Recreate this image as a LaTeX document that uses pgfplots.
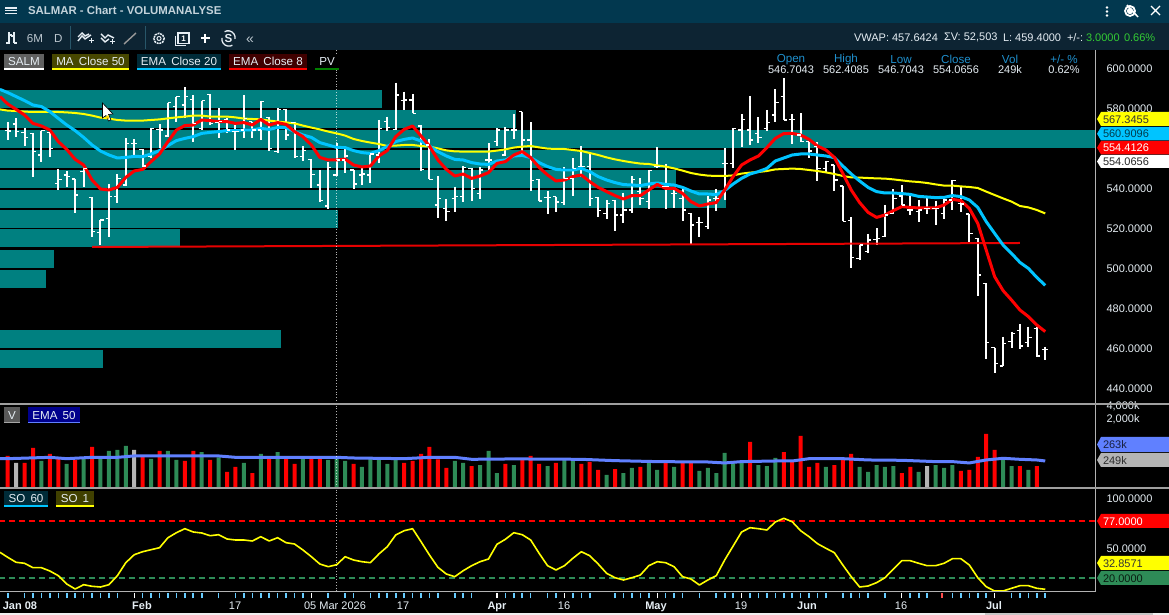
\documentclass[border=0pt]{standalone}
\usepackage{fontspec}
\setmainfont{Liberation Sans}
\usepackage{pgfplots}
\usepackage{pgfplotstable}
\pgfplotsset{compat=1.18}
\definecolor{hdr}{HTML}{02384F}
\definecolor{tbar}{HTML}{0D2433}
\definecolor{pvteal}{HTML}{008080}
\definecolor{mayel}{HTML}{FFFF00}
\definecolor{emablue}{HTML}{00C4FF}
\definecolor{emared}{HTML}{FF0000}
\definecolor{volgreen}{HTML}{2E8B57}
\definecolor{volgray}{HTML}{B4B4B4}
\definecolor{volblue}{HTML}{6080FF}
\definecolor{lab}{HTML}{E6EEF4}
\definecolor{hilab}{HTML}{1F8FCC}
\definecolor{tickblue}{HTML}{66CCFF}
\newcommand{\fs}{\fontsize{11}{13}\selectfont}
\newcommand{\fm}{\fontsize{11.3}{14}\selectfont}
\newcommand{\fc}{\fontsize{11.6}{14}\selectfont}
\pgfdeclareplotmark{olft}{\pgfpathmoveto{\pgfpoint{-3.2pt}{0pt}}\pgfpathlineto{\pgfpoint{0pt}{0pt}}\pgfusepathqstroke}
\pgfdeclareplotmark{crgt}{\pgfpathmoveto{\pgfpoint{0pt}{0pt}}\pgfpathlineto{\pgfpoint{3.2pt}{0pt}}\pgfusepathqstroke}
\pgfdeclareplotmark{nothing}{\pgfpathmoveto{\pgfpoint{0pt}{0pt}}\pgfusepathqstroke}
\pgfplotstableread{
i h l o c
0 572.8 564 568.7 568.5
1 574.8 565.7 572 568.2
2 569.8 561 567.8 565.3
3 567.3 545.7 567.3 558.2
4 568.7 553.2 556.5 568.7
5 567.8 555.7 567.8 559.8
6 549.5 539 542.3 544.3
7 548.5 540.7 546.5 545.7
8 544.5 527.3 544.5 536.5
9 550.3 540.7 548.2 549.8
10 535.3 515.7 535.3 518.2
11 524 511.5 517.7 524
12 542 515.7 524.8 535.7
13 547 532.7 535.7 544.8
14 564.8 541 541.5 562.3
15 564.3 556.5 562.3 562.3
16 559.3 550.3 559.3 551
17 569.8 554.8 555.7 569.8
18 571.8 559.8 569.3 569
19 582.7 565.7 566 582.7
20 585.7 573.2 580.7 585.7
21 590.3 574.8 581.5 585.7
22 586.5 563.2 584.3 572.3
23 583.7 569 569.8 583.7
24 586.8 571.5 586.8 572.3
25 579.8 565.2 572.7 573.2
26 574.8 567.7 574.3 569
27 571.5 559 568.2 568.2
28 586.5 564.8 569 574.8
29 573.2 564.8 573.2 569
30 583.7 564 569 583.2
31 575.7 558.7 575.3 559.8
32 579.8 557.7 558.2 579.3
33 579.3 564 579.3 566.5
34 573.2 555.2 572.8 555.7
35 561 553.5 555.7 558.7
36 554.3 540.2 554.3 546.8
37 549 533.2 541.5 533.7
38 553.2 529.5 531 550.3
39 562.3 546 546.5 554
40 559.8 547.7 554 556
41 549 539.7 549 542
42 549.8 541.5 546.5 547
43 558.2 542.7 546.5 557
44 574 552.7 556.5 569.8
45 575.7 568.7 573.2 570.2
46 592.7 569 569.3 586.5
47 588.2 579 583.7 584
48 587 577.3 584 577.3
49 571.5 548.7 571 549.3
50 564.3 544.3 561.5 544.3
51 546 524.8 531.5 534.8
52 534.5 523.7 529.8 528.2
53 540.7 528.2 534.8 535.7
54 551 533.2 535.7 550.3
55 549.8 533.7 549.8 539.8
56 550.3 534.7 537.3 549
57 562.3 549 554 554
58 569.8 561.2 563.2 569
59 570.3 556 556.5 569
60 577 564.3 569 569
61 578.2 556.5 578.2 564
62 572.8 538.7 564 543.7
63 544.3 533.5 544.3 533.5
64 538.7 526.8 535.3 535.3
65 535.7 528.2 535.7 533
66 550.3 531.5 532.7 544.8
67 554.8 536.2 544.8 549.8
68 561 545.7 550.7 550.7
69 557 531 550.7 534.8
70 535.3 525.7 535.3 528.7
71 534 524.3 527.3 532.3
72 534 518.7 533.7 526.5
73 537.7 522.7 526.5 529
74 546 527.3 529 544.3
75 544.8 531.5 538.2 534.8
76 549 529.3 533.2 548.7
77 560.3 549.8 550.7 550.7
78 552 529.7 540.7 540.7
79 539.8 530 537.3 537.3
80 539.8 523.7 534.8 529
81 527.3 512 527.3 521.5
82 525.3 515.7 522.7 522.7
83 536 519.7 520.7 534
84 539.3 528.7 534.8 534.8
85 559.8 534 552.3 552.3
86 569.8 549.8 552.3 569.8
87 577 560.3 569 574.3
88 586 561.5 569 564
89 575.3 562.7 567.3 565.3
90 579 568.7 569.8 572.7
91 589.3 573.2 576.5 582.7
92 595 574 585.7 574
93 577 561.8 574.3 574.3
94 577.3 563.2 566.5 563.2
95 563.2 554.8 563.2 558.5
96 562.8 543.7 560.7 549.8
97 553.5 547.3 549.8 553.2
98 551.5 538.5 551.5 544
99 541 523.3 541 523.3
100 525.3 499.8 523.7 505.3
101 511.5 504 504.8 511.5
102 517 507.7 508.2 514
103 519.8 511.5 514.3 514.8
104 531.5 515.3 515.7 526.5
105 539.3 527 527.3 534.8
106 541.5 531 536 531.5
107 536.5 526.5 529 529
108 534 523.2 528.2 529
109 535.7 527 529.8 529.8
110 533.7 521.5 529.8 529.8
111 534.3 524.3 527.3 534
112 544 529 534 543.7
113 540.7 528.2 532.3 532
114 527 513.2 527 517.3
115 514.8 486.2 514.8 496.5
116 492.3 454.3 492.3 462.7
117 460.2 447.3 460.2 452.3
118 465.7 451 451 462.3
119 468.2 460.2 463.2 467.3
120 472 459.3 468.7 461
121 470.7 460.7 462.7 465.3
122 470.3 455.7 469.8 456
123 460.7 454 459.3 459.3
}\ohlc
\pgfplotstableread{
i ma ema ef
-0.92 579.3 589.3 585.7
0 578.7 587.7 582
1 578.5 585.7 579.3
2 578.2 583.7 576.5
3 578 581.5 572.3
4 578 580.7 571
5 578 578.2 569
6 578 574.8 563.2
7 577.8 571.5 559.3
8 577.5 568.7 554.3
9 577 565.3 551.5
10 576.2 561.5 544
11 575.2 558.5 539.5
12 574.7 556.5 539
13 574 555 540.3
14 573.7 555.3 545.3
15 573.7 555.8 548.5
16 573.7 555.7 549.3
17 574 557 553.2
18 574.3 558.7 557
19 574.8 561.2 563.2
20 575.3 563.7 569
21 575.7 564.8 571.2
22 576.2 565.7 571.5
23 576.2 567.3 574
24 575.7 567.8 573.7
25 575.7 568.2 573.2
26 575.7 568.7 573.2
27 575.3 568.7 572.3
28 574.7 569 572.7
29 574.5 569 571.5
30 574.3 569.8 574.3
31 573.7 569.3 571.5
32 573.2 570.2 572.7
33 572.8 570.2 571.8
34 572.3 568.2 568.2
35 571.2 566.5 565.7
36 570.2 565.3 561.5
37 569.3 562.7 555.3
38 568.2 561.5 554
39 567.3 560.3 554
40 566.2 560.2 554.5
41 564.5 558.7 551.5
42 563.5 557.7 550.5
43 562.7 557.3 551
44 562 558.7 556
45 561 560.7 558.7
46 561.2 563.2 565.7
47 561.5 564.3 569.3
48 561.5 565 571
49 561 563.5 566
50 560.7 561 561
51 559.8 558.2 554
52 558.8 556 549.3
53 558.3 554.3 546
54 558.2 554 547
55 558.2 552.7 544.8
56 558.2 552 546
57 558.2 551.8 547.7
58 558.7 553.5 552.3
59 559.3 554 553.2
60 560.2 556 556.5
61 560.7 556.3 558.2
62 561 555.2 555.2
63 560.3 552.7 550.3
64 559.7 550.7 546.5
65 559.5 549.3 543.5
66 559.5 549 544
67 559 549 545.7
68 558.5 549.8 546.5
69 557.5 548.2 543.2
70 556.5 545.7 540.3
71 555.3 544 538.2
72 554.3 542.7 536.2
73 553.5 541.7 534.5
74 552.8 541.5 536.2
75 552.2 541.2 536.2
76 552 542 539
77 551.3 542.5 541.8
78 550.7 541.8 539.8
79 549.8 541.5 539.8
80 548.7 540.3 537.3
81 547.5 538.5 533.2
82 546.7 537 531
83 546.2 537 532
84 546 536.7 532.7
85 546 538.7 539
86 546.3 542 545.7
87 547.2 544.8 551.5
88 547.7 547 554
89 548 548.2 556
90 548.5 549.8 560.2
91 549.3 553.5 564.8
92 549.5 555 567.2
93 549.7 556.5 567.3
94 549.5 557 566.5
95 549 557 564.3
96 548.5 556.5 561
97 547.8 556 559
98 547 555.2 555.3
99 546 551 547.3
100 545.3 547 539
101 545.2 543.5 532.7
102 545 540.3 527.8
103 544.8 538.2 525.3
104 544.7 537.5 526.5
105 544.3 537.5 528.7
106 543.8 537.2 530.7
107 543.3 536.8 530.3
108 543 535.8 530
109 542.5 535.5 530
110 541.8 535.2 530
111 541.2 535.3 531.5
112 541.2 536.2 534.3
113 540.8 535.7 533.7
114 540.5 534 529.8
115 540 530.3 522.3
116 538.2 523.2 509
117 536.5 517.3 495.7
118 534.8 511.5 488.7
119 533.2 507.3 484
120 531 502.8 479
121 530.3 499.8 475.7
122 529 495.3 471.5
123 527.3 491.3 468.2
}\lines
\pgfplotstableread{
i v
0 279
2 192
3 427
5 310
6 259
8 225
10 450
16 269
18 363
21 213
22 363
24 225
26 119
27 155
29 112
31 237
33 259
34 182
36 237
37 259
41 182
47 192
48 213
49 310
50 450
51 233
52 147
55 163
59 182
61 225
62 279
63 182
65 192
68 182
69 202
70 132
72 139
75 155
78 192
80 192
81 192
88 587
92 344
93 202
94 809
95 155
96 192
98 172
99 225
100 310
106 112
107 155
113 125
114 132
115 264
116 899
117 383
120 163
122 163
}\volred
\pgfplotstableread{
i v
4 213
7 182
9 259
11 246
12 363
13 383
14 474
17 237
19 363
20 225
23 344
25 259
28 192
30 310
32 344
35 246
38 225
39 246
40 213
42 155
43 259
44 246
45 182
46 246
53 213
54 192
56 172
57 363
58 112
60 172
64 163
66 225
67 225
71 101
73 112
74 147
76 202
77 132
79 155
82 125
83 147
84 112
85 327
86 192
87 192
89 172
90 163
91 250
97 155
101 155
102 119
103 172
104 155
105 163
108 119
110 172
111 147
112 172
118 225
119 163
121 132
123 52
}\volgreen
\pgfplotstableread{
i v
1 192
15 383
109 163
}\volgrey
\pgfplotstableread{
i so
-0.92 45.7
0 40.7
1 35.7
2 34.7
3 30.3
4 30.3
5 27
6 22.3
7 14
8 9
9 13.3
10 11.7
11 11
12 13.3
13 22.3
14 35.3
15 43.3
16 46.3
17 48.3
18 50.3
19 60.3
20 65.3
21 69.3
22 66
23 65
24 62.3
25 63.3
26 59
27 58
28 58
29 57
30 61.3
31 57
32 60.3
33 55.3
34 54
35 48
36 41.3
37 34
38 31.3
39 33.3
40 41.3
41 38
42 36.3
43 35.3
44 44
45 51.3
46 63
47 67.3
48 69.3
49 56.3
50 43
51 30.7
52 24
53 21.3
54 27.3
55 32.3
56 36.3
57 39
58 53.7
59 58.7
60 65.3
61 63.3
62 58
63 44.7
64 32.3
65 28
66 32.3
67 39.7
68 46.3
69 42.3
70 34
71 24.7
72 20.3
73 18
74 20.3
75 23
76 32.3
77 36.3
78 35.3
79 31.3
80 21.3
81 19
82 13
83 18
84 22.3
85 38
86 52
87 66
88 70.3
89 69.3
90 68
91 76
92 79.7
93 76.3
94 67.3
95 61.3
96 54.3
97 49.7
98 45.3
99 33
100 21.3
101 11
102 12
103 15.3
104 20.3
105 29
106 37.3
107 37.3
108 34.7
109 32.3
110 32.3
111 34.7
112 39.3
113 39.3
114 33
115 20.3
116 11.3
117 7
118 7
119 9.7
120 12.3
121 12.3
122 9.7
123 8.7
}\sotab
\pgfplotsset{
  panel/.style={
    scale only axis, width=1095pt,
    xmin=-0.913, xmax=128.9,
    axis line style={draw=none},
    major tick length=0pt,
    xticklabels={}, 
    yticklabel pos=right,
    yticklabel style={font=\fs,color=lab,anchor=west,xshift=8pt,yshift=-.6pt,/pgf/number format/assume math mode=true},
    clip=true,
  },
  pvband/.style={draw=pvteal,line width=18pt,line cap=butt,no marks,forget plot},
}
\begin{document}
\begin{tikzpicture}[x=1pt,y=1pt]
\useasboundingbox (0,0) rectangle (1169,615);
% background
\begin{scope}[shift={(0,615)},y=-1pt]
\fill[black] (0,0) rectangle (1169,615);
\fill[hdr] (0,0) rectangle (1169,23);
\fill[tbar] (0,23) rectangle (1169,50);
\end{scope}
% price panel
\begin{axis}[panel, at={(0pt,212pt)}, anchor=south west, height=353pt,
  ymin=432.5, ymax=609,
  ytick={440,460,480,500,520,540,560,580,600},
  yticklabel style={/pgf/number format/.cd,fixed,fixed zerofill,precision=4,1000 sep={}},
  xtick=\empty]
\addplot[pvband] coordinates {(-1,584.5)(44.4,584.5)};
\addplot[pvband] coordinates {(-1,574.5)(60.25,574.5)};
\addplot[pvband] coordinates {(-1,564.5)(129,564.5)};
\addplot[pvband] coordinates {(-1,554.5)(85,554.5)};
\addplot[pvband] coordinates {(-1,544.5)(79.2,544.5)};
\addplot[pvband] coordinates {(-1,534.5)(85.15,534.5)};
\addplot[pvband] coordinates {(-1,524.5)(39.16,524.5)};
\addplot[pvband] coordinates {(-1,514.75)(20.4,514.75)};
\addplot[pvband] coordinates {(-1,504.5)(5.5,504.5)};
\addplot[pvband] coordinates {(-1,494.5)(4.54,494.5)};
\addplot[pvband] coordinates {(-1,464.5)(32.4,464.5)};
\addplot[pvband] coordinates {(-1,454.5)(11.3,454.5)};
\addplot[only marks,mark=nothing,white,
  error bars/.cd,y dir=minus,y explicit,error mark=none,
  error bar style={line width=2pt,draw=white,solid}]
  table[x=i,y=h,y error minus expr=\thisrow{h}-\thisrow{l}] {\ohlc};
\addplot[only marks,mark=olft,mark options={white,line width=1.2pt}] table[x=i,y=o] {\ohlc};
\addplot[only marks,mark=crgt,mark options={white,line width=1.2pt}] table[x=i,y=c] {\ohlc};
\addplot[no marks,draw=emared,line width=2pt,opacity=.9] coordinates {(10,510.5)(120,512.5)};
\addplot[no marks,draw=mayel,line width=2pt] table[x=i,y=ma] {\lines};
\addplot[no marks,draw=emablue,line width=3pt,line join=round] table[x=i,y=ema] {\lines};
\addplot[no marks,draw=emared,line width=3pt,line join=round] table[x=i,y=ef] {\lines};
\end{axis}
% volume panel
\begin{axis}[panel, at={(0pt,127pt)}, anchor=south west, height=83pt,
  ymode=log, ymin=50.5, ymax=4215, log basis y=10,
  ytick={2000,4000}, yticklabels={{2,000k},{4,000k}},
  minor tick length=0pt, xtick=\empty]
\addplot[ybar,bar width=4pt,bar shift=0pt,fill=red,draw=none] table[x=i,y=v] {\volred};
\addplot[ybar,bar width=4pt,bar shift=0pt,fill=volgreen,draw=none] table[x=i,y=v] {\volgreen};
\addplot[ybar,bar width=4pt,bar shift=0pt,fill=volgray,draw=none] table[x=i,y=v] {\volgrey};
\addplot[no marks,draw=volblue,line width=3pt,line join=round] coordinates {
(-0.92,241)(0,241)(5,259)(7,241)(10,259)(13,259)(15,279)(25,279)(27,259)(39,259)(41,250)(47,241)(50,259)(53,259)(55,233)(60,238)(68,233)(72,217)(77,206)(83,202)(85,192)(87,206)(91,213)(93,213)(95,241)(99,241)(102,225)(106,221)(110,206)(112,206)(114,192)(116,225)(118,246)(120,233)(122,225)(123,213)};
\end{axis}
% oscillator panel
\begin{axis}[panel, at={(0pt,23pt)}, anchor=south west, height=103pt,
  ymin=6, ymax=109, ytick={50,100},
  yticklabel style={/pgf/number format/.cd,fixed,fixed zerofill,precision=4,1000 sep={}},
  xtick=\empty]
\addplot[no marks,draw=red,line width=1.6pt,dash pattern=on 6pt off 4pt] coordinates {(-1,77)(129,77)};
\addplot[no marks,draw=volgreen,line width=1.6pt,dash pattern=on 6pt off 4pt] coordinates {(-1,20)(129,20)};
\addplot[no marks,draw=mayel,line width=1.6pt,line join=round] table[x=i,y=so] {\sotab};
\end{axis}
% tick strip under the oscillator
\begin{axis}[scale only axis,width=1095pt,height=1pt,at={(0pt,22pt)},anchor=south west,
  xmin=-0.913,xmax=128.9,ymin=0,ymax=1,
  axis line style={draw=none},ytick=\empty,
  xtick={0,2,3,4,5,6,7,8,9,10,11,12,13,16,17,18,19,20,21,22,23,25,27,28,29,30,31,32,33,34,35,38,40,41,43,44,45,46,47,48,49,50,51,53,54,55,59,60,61,62,64,65,67,68,69,72,73,74,75,76,78,79,80,82,84,85,86,88,89,90,91,92,93,94,95,96,97,99,100,101,102,104,107,108,109,112,113,114,115,116,119,120,121,122,123},
  xticklabels={},
  major tick length=5.5pt,
  tick align=outside,
  xtick pos=lower,
  tick style={draw=tickblue,line width=1.6pt},
  extra x ticks={15,36,58,66,77,87,106,117},
  extra x tick labels={},
  extra x tick style={tick style={draw=white,line width=1.2pt}}]
\addplot[draw=none,forget plot] coordinates {(0,0)(1,1)};
\end{axis}
% foreground
\begin{scope}[shift={(0,615)},y=-1pt]
\tikzset{every node/.style={font=\fs,inner sep=0pt,outer sep=0pt}}
\draw[white,line width=.8pt,dotted,opacity=.7] (336.5,50) -- (336.5,592);
\draw[gray!60!white,line width=1pt] (1095.5,50) -- (1095.5,592);
\draw[gray!75!white,line width=2pt] (0,404) -- (1169,404);
\draw[gray!75!white,line width=1.6pt] (0,488) -- (1169,488);
\draw[gray!60!white,line width=1pt] (0,592) -- (1095.5,592);
\fill[red!70!white] (941,593) rectangle (943,598);
\foreach \x in {579,581.5,584,586.5,589} \fill[gray!70!white] (\x,403) rectangle +(1.2,1.2);
% grey strip below
\fill[white!94!black] (0,612.8) rectangle (1169,615);
\fill[gray!45!white] (985,612.8) rectangle (1153,615);
% cursor
\draw[black,fill=white,line width=.6pt] (102.5,103) -- (102.5,118) -- (106,115.5) -- (108.5,121) -- (111,120) -- (108.5,114.5) -- (113,114) -- cycle;
\fill[mayel!70!orange] (104.5,117.5) -- (108.5,115) -- (109,119) -- cycle;
% date labels
\foreach \x/\t in {20/Jan 08,142/Feb,497/Apr,656/May,807/Jun,994/Jul}
  \node[font=\fs\bfseries,color=lab,anchor=base] at (\x,610) {\t};
\foreach \x/\t in {235/17,335/05 Mar 2026,403/17,564/16,741/19,901/16}
  \node[font=\fs,color=lab,anchor=base] at (\x,610) {\t};
% header
\node[font=\fontsize{11.4}{14}\selectfont\bfseries,color=lab!85!hdr,anchor=west] at (28,10.5) {SALMAR - Chart - VOLUMANALYSE};
\foreach \y in {8,10.8,13.6} \draw[lab,line width=1.3pt] (5,\y) -- (17,\y);
\foreach \y in {7.5,11.5,15.5} \fill[white] (1107,\y) circle (1.3);
\draw[white,line width=1.8pt] (1130,11) circle (5);
\fill[white] (1130,11) circle (3.2);
\draw[white,line width=1.5pt] (1127,5) -- (1138,17);
\draw[white,line width=1.3pt] (1151,6) -- (1160,15) (1160,6) -- (1151,15);
% toolbar
\draw[lab,line width=1.3pt] (6,43) -- (9,43) (9,44) -- (9,32) (9,35)--(11.5,35);
\draw[lab,line width=1.3pt] (11,36)--(14,36) (14,32)--(14,43) (14,43)--(17,43);
\node[color=lab!80!tbar,font=\fc,anchor=west] at (27,39) {6M};
\node[color=lab!80!tbar,font=\fc,anchor=west] at (54,39) {D};
\draw[hdr!85!white,line width=1pt] (70,26) -- (70,49) (145,26) -- (145,49);
\draw[lab,line width=1.4pt] (78,41) -- (82,36) -- (85,39) -- (91,35) (78,37) -- (82,33)--(85,36) -- (89,34);
\draw[lab,line width=1pt] (89,41) -- (94,41) (91.5,38.5) -- (91.5,43.5);
\draw[lab,line width=1.4pt] (101,34) -- (105,38) -- (108,35) -- (114,38) (101,38) -- (105,42) -- (109,39);
\draw[lab,line width=1pt] (110,42) -- (115,42) (112.5,39.5) -- (112.5,44.5);
\draw[gray!80!white,line width=1.4pt] (124,44) -- (136,33);
\draw[lab,line width=1.5pt,dash pattern=on 2pt off .8pt] (159,38.5) circle (5.2);
\draw[lab,line width=1pt] (159,38.5) circle (2);
\draw[lab,line width=1.2pt] (178,33) rectangle (189,43.5) (175.5,36) -- (175.5,45.5) -- (186,45.5);
\node[color=white,font=\fontsize{8}{8}\selectfont\bfseries] at (183.5,38.3) {1};
\draw[white,line width=2pt] (205,34) -- (205,43) (200.5,38.5) -- (209.5,38.5);
\draw[lab,line width=1.3pt] (222,38) arc (190:60:7) (235,39) arc (10:-120:7);
\node[color=lab,font=\fc\bfseries] at (228.5,38.5) {S};
\node[color=lab!80!tbar,font=\fontsize{14}{14}\selectfont] at (250,40) {«};
% top right readout
\node[font=\fs,color=lab,anchor=west] at (854,37.5) {VWAP: 457.6424};
\node[font=\fs,color=lab,anchor=west] at (944,37.5) {ΣV: 52,503};
\node[font=\fs,color=lab,anchor=west] at (1003,37.5) {L: 459.4000};
\node[font=\fs,color=lab,anchor=west] at (1067,37.5) {+/-:};
\node[font=\fs,color=green!60!gray,anchor=west] at (1086,37.5) {3.0000};
\node[font=\fs,color=green!60!gray,anchor=west] at (1124,37.5) {0.66\%};
\foreach \x/\a/\b in {791/Open/546.7043,846/High/562.4085,901/Low/546.7043,956/Close/554.0656,1010/Vol/249k}{
  \node[font=\fc,color=hilab] at (\x,59.5) {\a};
  \node[color=lab] at (\x,69.5) {\b};
}
\node[font=\fc,color=hilab] at (1064,59.5) {+/- \%};
\node[color=lab] at (1064,69.5) {0.62\%};
% legend chips
\newcommand{\chip}[7]{\fill[#5] (#1,#3) rectangle (#2,#4);
  \draw[#6,line width=1.4pt] (#1,#4) -- (#2,#4);
  \node[font=\fc,color=lab] at ({(#1+#2)/2},{(#3+#4)/2+.3}) {#7};}
\chip{4}{44}{54}{69}{gray!75!black}{white}{SALM}
\chip{52}{129}{54}{69}{mayel!28!black}{mayel}{MA\, Close 50}
\chip{137}{221}{54}{69}{emablue!22!black}{emablue}{EMA\, Close 20}
\chip{229}{307}{54}{69}{red!25!black}{red}{EMA\, Close 8}
\chip{315}{339}{54}{69}{black}{green!50!black}{PV}
\chip{4}{20}{407}{422.5}{gray!70!black}{gray!70!white}{V}
\chip{28}{80}{407}{422.5}{blue!55!black}{volblue}{EMA\, 50}
\chip{4}{48}{491}{506}{emablue!22!black}{emablue}{SO\, 60}
\chip{56}{94}{491}{506}{mayel!25!black}{mayel}{SO\, 1}
% right tags
\newcommand{\tagbox}[5]{\fill[#1] (1097,{(#3+#4)/2}) -- (1101,#3) -- (1169,#3) -- (1169,#4) -- (1101,#4) -- cycle;
  \node[font=\fs,color=#2,anchor=west] at (1103,{(#3+#4)/2+.3}) {#5};}
\tagbox{mayel}{black!80!white}{112}{126}{567.3455}
\tagbox{emablue}{black!70!emablue}{127}{140.5}{560.9096}
\tagbox{red}{white}{141}{154.5}{554.4126}
\tagbox{white}{black!85!white}{155}{168}{554.0656}
\tagbox{volblue}{black!75!volblue}{437}{452}{263k}
\tagbox{volgray}{black!75!volgray}{453}{467}{249k}
\tagbox{red}{white}{514}{528}{77.0000}
\tagbox{mayel}{black!80!white}{556}{570}{32.8571}
\tagbox{volgreen}{black!80!volgreen}{571}{585}{20.0000}
\end{scope}
\end{tikzpicture}
\end{document}
